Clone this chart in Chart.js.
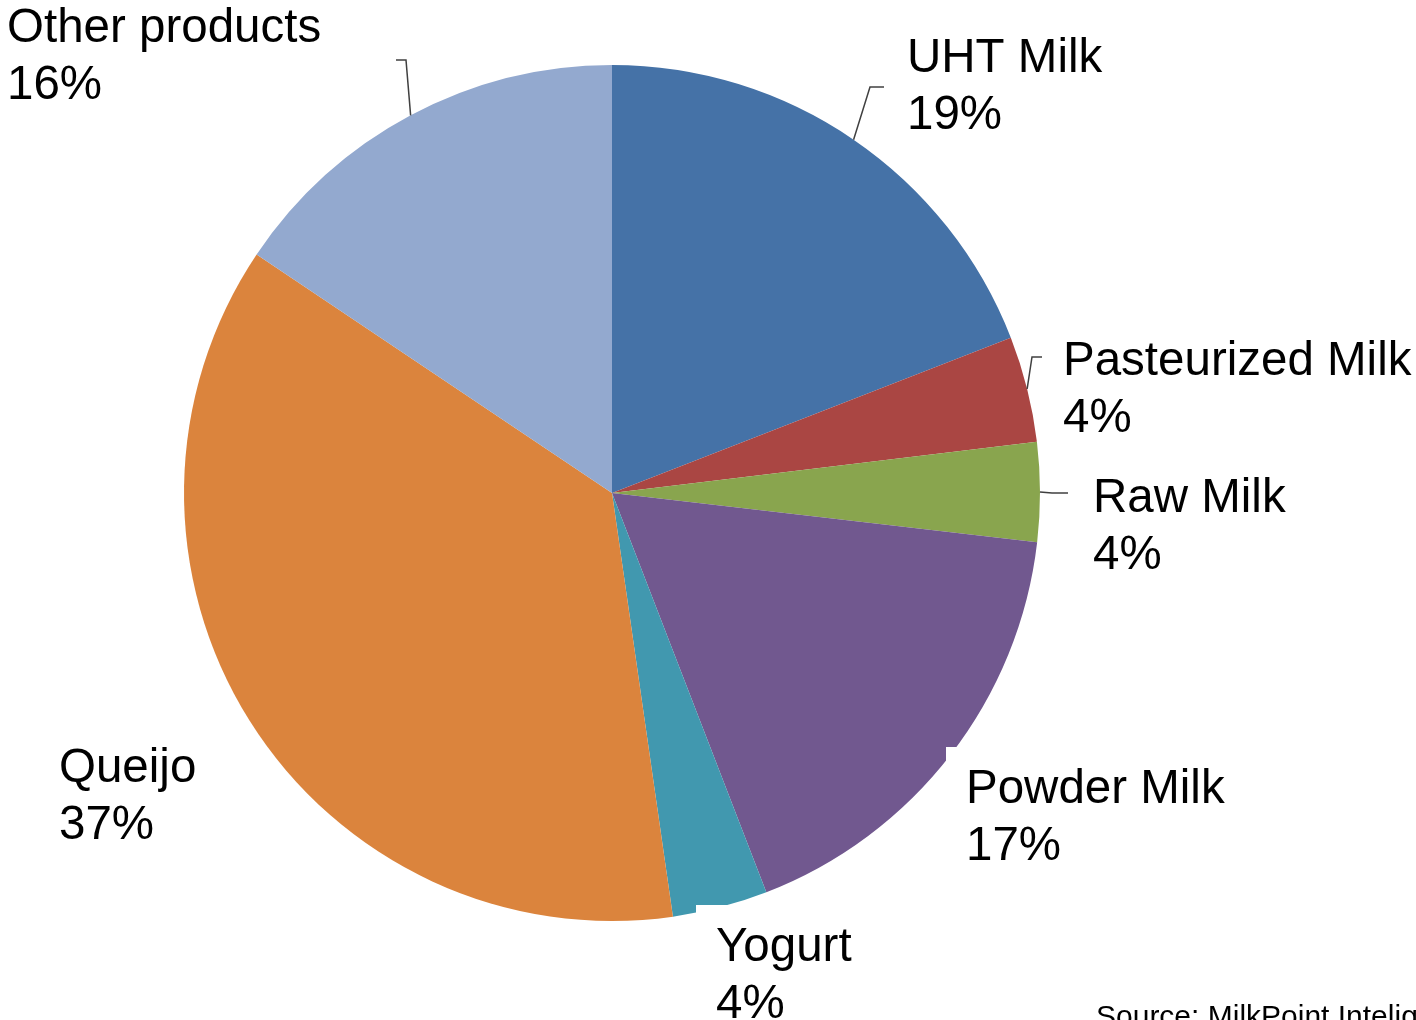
<!DOCTYPE html>
<html>
<head>
<meta charset="utf-8">
<script src="https://cdn.jsdelivr.net/npm/chart.js@4/dist/chart.umd.min.js"></script>
<style>
  html, body { margin: 0; padding: 0; background: #fff; }
  #wrap { width: 1416px; height: 1020px; position: relative; }
</style>
</head>
<body>
<div id="wrap"><canvas id="pie"></canvas></div>
<script>
// ---- data ----
const categories = ['UHT Milk', 'Pasteurized Milk', 'Raw Milk', 'Powder Milk', 'Yogurt', 'Queijo', 'Other products'];
const shares = [19.1, 4.0, 3.75, 17.3, 3.6, 36.7, 15.6];
const shareLabels = ['19%', '4%', '4%', '17%', '4%', '37%', '16%'];
const sliceColors = ['#4572A7', '#AA4643', '#89A54E', '#71588F', '#4198AF', '#DB843D', '#93A9CF'];
const sourceNote = 'Source: MilkPoint Inteligência';

// label placement: text left x, first baseline y, optional leader elbow/end, optional white box
const labelLayout = [
  { x: 907,  y: 72,  elbow: [870, 87],  end: [884, 87] },
  { x: 1063, y: 375, elbow: [1032, 357], end: [1042, 357] },
  { x: 1093, y: 512, elbow: [1052, 493], end: [1068, 493] },
  { x: 966,  y: 803, box: true },
  { x: 716,  y: 961, box: true },
  { x: 59,   y: 782, box: true },
  { x: 7,    y: 42,  elbow: [406, 60],  end: [396, 60] }
];

const FONT = '47.5px "Liberation Sans", Arial, sans-serif';
const LINE_H = 57;

const labelPlugin = {
  id: 'sliceLabels',
  afterDatasetsDraw(chart) {
    const ctx = chart.ctx;
    const arcs = chart.getDatasetMeta(0).data;
    ctx.save();
    ctx.font = FONT;
    ctx.textBaseline = 'alphabetic';
    ctx.textAlign = 'left';

    labelLayout.forEach((lay, i) => {
      const arc = arcs[i];
      const mid = (arc.startAngle + arc.endAngle) / 2;
      const ax = arc.x + Math.cos(mid) * arc.outerRadius;
      const ay = arc.y + Math.sin(mid) * arc.outerRadius;

      if (lay.elbow) {
        ctx.strokeStyle = '#404040';
        ctx.lineWidth = 1.5;
        ctx.beginPath();
        ctx.moveTo(ax, ay);
        ctx.lineTo(lay.elbow[0], lay.elbow[1]);
        ctx.lineTo(lay.end[0], lay.end[1]);
        ctx.stroke();
      }

      const w = Math.max(ctx.measureText(categories[i]).width, ctx.measureText(shareLabels[i]).width);
      if (lay.box) {
        ctx.fillStyle = '#fff';
        ctx.fillRect(lay.x - 20, lay.y - 56, w + 58, LINE_H * 2 + 20);
      }

      ctx.fillStyle = '#000';
      ctx.fillText(categories[i], lay.x, lay.y);
      ctx.fillText(shareLabels[i], lay.x, lay.y + LINE_H);
    });

    ctx.font = '30px "Liberation Sans", Arial, sans-serif';
    ctx.fillStyle = '#000';
    ctx.fillText(sourceNote, 1096, 1026);
    ctx.restore();
  }
};

new Chart(document.getElementById('pie'), {
  type: 'pie',
  data: {
    labels: categories,
    datasets: [{
      data: shares,
      backgroundColor: sliceColors,
      borderWidth: 0
    }]
  },
  options: {
    responsive: true,
    maintainAspectRatio: false,
    animation: false,
    layout: { padding: { left: 184, right: 376, top: 65, bottom: 99 } },
    plugins: {
      legend: { display: false },
      tooltip: { enabled: false }
    }
  },
  plugins: [labelPlugin]
});
</script>
</body>
</html>
